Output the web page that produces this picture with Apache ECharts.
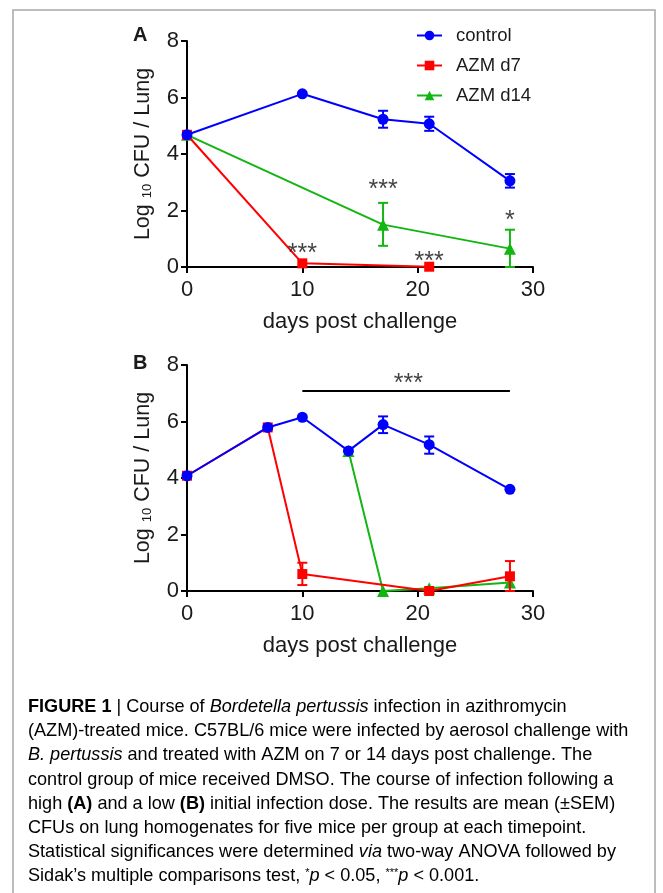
<!DOCTYPE html>
<html>
<head>
<meta charset="utf-8">
<script src="https://cdn.jsdelivr.net/npm/echarts@6/dist/echarts.min.js"></script>
<style>
html, body { margin: 0; padding: 0; background: #fff; }
#main { width: 663px; height: 893px; }
</style>
</head>
<body>
<div id="main"></div>
<script>
// ---- panel A (high dose) ----
var aControlX = [0, 10, 17, 21, 28];
var aControlY = [4.68, 6.13, 5.23, 5.07, 3.05];
var aD7X = [0, 10, 21];
var aD7Y = [4.68, 0.13, 0.01];
var aD14X = [0, 17, 28];
var aD14Y = [4.68, 1.5, 0.65];
// error bars: [day, low, high]
var aControlErr = [[17, 4.93, 5.53], [21, 4.82, 5.32], [28, 2.81, 3.29]];
var aD14Err = [[17, 0.75, 2.27], [28, 0, 1.32]];
var aStarsX = [10, 17, 21, 28];
var aStarsY = [0.67, 2.94, 0.38, 1.85];
var aStarsText = ['***', '***', '***', '*'];

// ---- panel B (low dose) ----
var bControlX = [0, 7, 10, 14, 17, 21, 28];
var bControlY = [4.08, 5.79, 6.15, 4.96, 5.89, 5.18, 3.6];
var bD7X = [0, 7, 10, 21, 28];
var bD7Y = [4.08, 5.79, 0.6, 0.0, 0.52];
var bD14X = [14, 17, 21, 28];
var bD14Y = [4.96, 0.0, 0.1, 0.3];
var bControlErr = [[17, 5.59, 6.18], [21, 4.86, 5.47]];
var bD7Err = [[10, 0.21, 1.0], [28, 0, 1.06]];
var bBarX = [10, 28];
var bBarY = [7.08, 7.08];
var bStarsX = [19.2];
var bStarsY = [7.55];
var bStarsText = ['***'];

var seriesNames = ['control', 'AZM d7', 'AZM d14'];
var colors = ['#0000ff', '#ff0000', '#12b512'];
var symbols = ['circle', 'rect', 'triangle'];
var symbolSizes = [11, 10, 12];

var xTicks = [0, 10, 20, 30];
var yTicks = [0, 2, 4, 6, 8];

function zip(xs, ys) {
    return xs.map(function (x, i) { return [x, ys[i]]; });
}

var FONT = 'Liberation Sans';

function makeAxes(idx) {
    var x = {
        type: 'value', gridIndex: idx, min: xTicks[0], max: xTicks[xTicks.length - 1], interval: 10,
        name: 'days post challenge', nameLocation: 'middle', nameGap: 44,
        nameTextStyle: { fontSize: 22, color: '#1a1a1a', fontFamily: FONT },
        axisLine: { onZero: false, lineStyle: { color: '#000', width: 2 } },
        axisTick: { length: 6, lineStyle: { color: '#000', width: 2 } },
        axisLabel: { fontSize: 22, color: '#1a1a1a', fontFamily: FONT, margin: 12 },
        splitLine: { show: false }
    };
    var y = {
        type: 'value', gridIndex: idx, min: yTicks[0], max: yTicks[yTicks.length - 1], interval: 2,
        name: '{a|Log }{s|10}{a| CFU / Lung}', nameLocation: 'middle', nameGap: 33, nameRotate: 90,
        nameTextStyle: {
            color: '#1a1a1a', fontFamily: FONT,
            rich: {
                a: { fontSize: 21.5, fontFamily: FONT, color: '#1a1a1a' },
                s: { fontSize: 13, fontFamily: FONT, color: '#1a1a1a', verticalAlign: 'bottom' }
            }
        },
        axisLine: { lineStyle: { color: '#000', width: 2 } },
        axisTick: { length: 6, lineStyle: { color: '#000', width: 2 } },
        axisLabel: { fontSize: 22, color: '#1a1a1a', fontFamily: FONT, margin: 8 },
        splitLine: { show: false }
    };
    return [x, y];
}

function lineSeries(k, idx, xs, ys) {
    return {
        name: seriesNames[k], type: 'line', xAxisIndex: idx, yAxisIndex: idx,
        data: zip(xs, ys), symbol: symbols[k], symbolSize: symbolSizes[k],
        showAllSymbol: true, z: 4 - k + 2,
        itemStyle: { color: colors[k] },
        lineStyle: { color: colors[k], width: 2 },
        emphasis: { disabled: true }
    };
}

function errSeries(k, idx, data) {
    return {
        name: seriesNames[k], type: 'custom', xAxisIndex: idx, yAxisIndex: idx,
        data: data, encode: { x: 0, y: [1, 2] }, z: 4 - k + 2,
        renderItem: function (params, api) {
            var top = api.coord([api.value(0), api.value(2)]);
            var bot = api.coord([api.value(0), api.value(1)]);
            var hw = 5;
            var st = { stroke: colors[k], lineWidth: 2 };
            return {
                type: 'group',
                children: [
                    { type: 'line', shape: { x1: top[0], y1: top[1], x2: bot[0], y2: bot[1] }, style: st },
                    { type: 'line', shape: { x1: top[0] - hw, y1: top[1], x2: top[0] + hw, y2: top[1] }, style: st },
                    { type: 'line', shape: { x1: bot[0] - hw, y1: bot[1], x2: bot[0] + hw, y2: bot[1] }, style: st }
                ]
            };
        }
    };
}

function starSeries(idx, xs, ys, txt) {
    return {
        name: 'sig', type: 'scatter', xAxisIndex: idx, yAxisIndex: idx,
        data: xs.map(function (x, i) { return [x, ys[i], txt[i]]; }),
        symbolSize: 1, itemStyle: { color: 'rgba(0,0,0,0)' }, z: 10,
        label: {
            show: true, position: 'inside', offset: [0, 6],
            formatter: function (p) { return p.value[2]; },
            fontSize: 25, color: '#111', fontFamily: FONT
        },
        emphasis: { disabled: true }
    };
}

var axA = makeAxes(0), axB = makeAxes(1);

var captionLines = [
    '{b|FIGURE 1} {sep||} {n|Course of }{i|Bordetella pertussis}{n| infection in azithromycin}',
    '{n|(AZM)-treated mice. C57BL/6 mice were infected by aerosol challenge with}',
    '{i|B. pertussis}{n| and treated with AZM on 7 or 14 days post challenge. The}',
    '{n|control group of mice received DMSO. The course of infection following a}',
    '{n|high }{b|(A)}{n| and a low }{b|(B)}{n| initial infection dose. The results are mean (\u00b1SEM)}',
    '{n|CFUs on lung homogenates for five mice per group at each timepoint.}',
    '{n|Statistical significances were determined }{i|via}{n| two-way ANOVA followed by}',
    '{n|Sidak\u2019s multiple comparisons test, }{sup|*}{i|p}{n| < 0.05, }{sup|***}{i|p}{n| < 0.001.}'
];
var capFont = 18.1;
var capRich = {
    b: { fontSize: capFont, fontWeight: 'bold', color: '#222', fontFamily: FONT },
    n: { fontSize: capFont, color: '#3a3a3a', fontFamily: FONT },
    i: { fontSize: capFont, fontStyle: 'italic', color: '#3a3a3a', fontFamily: FONT },
    sep: { fontSize: capFont, color: '#9a9a9a', fontFamily: FONT },
    sup: { fontSize: 11, color: '#3a3a3a', fontFamily: FONT, verticalAlign: 'top' }
};

var graphics = [
    { type: 'rect', shape: { x: 13, y: 10, width: 642, height: 900 }, style: { fill: 'none', stroke: '#a8a8a8', lineWidth: 1.5 }, silent: true },
    { type: 'text', x: 133, y: 35, style: { text: 'A', font: 'bold 20px "Liberation Sans"', fill: '#1a1a1a', verticalAlign: 'middle' } },
    { type: 'text', x: 133, y: 363, style: { text: 'B', font: 'bold 20px "Liberation Sans"', fill: '#1a1a1a', verticalAlign: 'middle' } }
];
captionLines.forEach(function (ln, i) {
    graphics.push({
        type: 'text', x: 28, y: 707 + i * 24.2,
        style: { text: ln, rich: capRich, verticalAlign: 'middle', fontFamily: FONT, fontSize: capFont }
    });
});

var chart = echarts.init(document.getElementById('main'), null, { renderer: 'canvas' });
chart.setOption({
    backgroundColor: '#fff',
    animation: false,
    textStyle: { fontFamily: FONT },
    grid: [
        { left: 187, top: 41, width: 346, height: 226 },
        { left: 187, top: 365, width: 346, height: 226 }
    ],
    xAxis: [axA[0], axB[0]],
    yAxis: [axA[1], axB[1]],
    legend: {
        data: seriesNames, orient: 'vertical', left: 411, top: 21,
        itemWidth: 25, itemHeight: 12, itemGap: 11,
        textStyle: { fontSize: 18.5, color: '#1a1a1a', fontFamily: FONT, padding: [0, 0, 0, 9] },
        selectedMode: false
    },
    graphic: graphics,
    series: [
        // panel A
        lineSeries(2, 0, aD14X, aD14Y),
        errSeries(2, 0, aD14Err),
        lineSeries(1, 0, aD7X, aD7Y),
        lineSeries(0, 0, aControlX, aControlY),
        errSeries(0, 0, aControlErr),
        starSeries(0, aStarsX, aStarsY, aStarsText),
        // panel B
        lineSeries(2, 1, bD14X, bD14Y),
        lineSeries(1, 1, bD7X, bD7Y),
        errSeries(1, 1, bD7Err),
        lineSeries(0, 1, bControlX, bControlY),
        errSeries(0, 1, bControlErr),
        {
            name: 'bar', type: 'line', xAxisIndex: 1, yAxisIndex: 1,
            data: zip(bBarX, bBarY), showSymbol: false, symbol: 'none',
            lineStyle: { color: '#000', width: 2 }, z: 10
        },
        starSeries(1, bStarsX, bStarsY, bStarsText)
    ]
});
</script>
</body>
</html>
